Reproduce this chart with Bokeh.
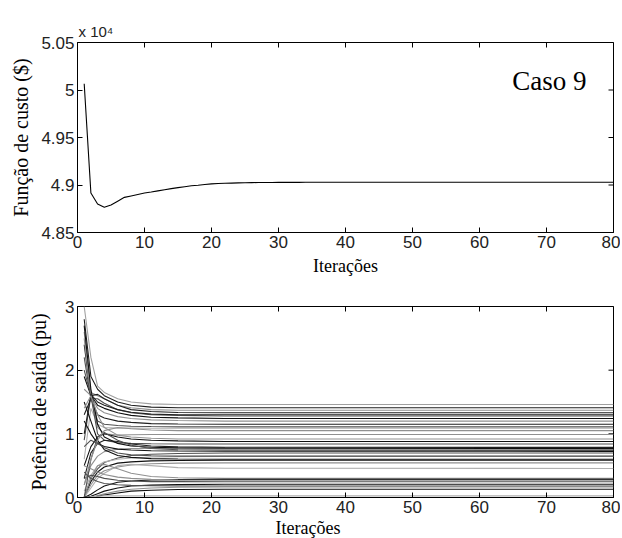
import math
from bokeh.plotting import figure
from bokeh.layouts import column
from bokeh.models import FixedTicker, CustomJSTickFormatter, Label, Range1d, Title
from bokeh.embed import file_html
from bokeh.resources import INLINE

# ---------------- data ----------------
iterations = list(range(1, 81))
cost_dollars = [
    50065, 48915, 48800, 48766, 48790, 48830, 48870, 48885, 48900, 48915,
    48926, 48938, 48950, 48962, 48972, 48982, 48992, 48998, 49006, 49012,
    49015, 49018, 49020, 49022, 49024, 49025, 49026, 49027, 49027, 49028,
    49028, 49028, 49028, 49029, 49029, 49029, 49029, 49029, 49029, 49029,
    49029, 49029, 49029, 49029, 49029, 49029, 49029, 49029, 49029, 49029,
    49029, 49029, 49029, 49029, 49029, 49029, 49029, 49029, 49029, 49029,
    49029, 49029, 49029, 49029, 49029, 49029, 49029, 49029, 49029, 49029,
    49029, 49029, 49029, 49029, 49029, 49029, 49029, 49029, 49029, 49029,
]

power_iters = [1, 2, 3, 4, 6, 8, 11, 15, 22, 80]
power_by_unit = [
    [3.00, 2.20, 1.75, 1.65, 1.55, 1.50, 1.47, 1.46, 1.46, 1.46],
    [2.80, 1.90, 1.70, 1.60, 1.50, 1.45, 1.42, 1.41, 1.41, 1.41],
    [2.60, 1.65, 1.60, 1.55, 1.45, 1.41, 1.38, 1.37, 1.37, 1.37],
    [2.40, 1.60, 1.62, 1.55, 1.45, 1.38, 1.35, 1.335, 1.33, 1.33],
    [2.20, 1.55, 1.55, 1.48, 1.38, 1.33, 1.30, 1.29, 1.28, 1.28],
    [1.90, 1.60, 1.45, 1.40, 1.33, 1.29, 1.26, 1.25, 1.24, 1.24],
    [1.70, 1.60, 1.40, 1.33, 1.27, 1.24, 1.22, 1.21, 1.20, 1.20],
    [1.30, 1.55, 1.30, 1.25, 1.20, 1.18, 1.16, 1.155, 1.15, 1.15],
    [0.90, 1.60, 1.20, 1.15, 1.13, 1.12, 1.115, 1.11, 1.11, 1.11],
    [0.60, 1.40, 1.15, 1.10, 1.09, 1.09, 1.088, 1.087, 1.087, 1.087],
    [2.50, 1.60, 1.10, 1.00, 0.98, 0.985, 0.99, 0.99, 0.99, 0.99],
    [0.50, 0.80, 0.95, 1.00, 0.95, 0.92, 0.90, 0.89, 0.88, 0.88],
    [2.00, 1.60, 1.00, 0.90, 0.86, 0.85, 0.845, 0.84, 0.84, 0.84],
    [0.30, 0.70, 0.85, 0.90, 0.88, 0.84, 0.81, 0.795, 0.79, 0.787],
    [0.20, 0.50, 0.65, 0.72, 0.76, 0.77, 0.77, 0.765, 0.76, 0.756],
    [1.20, 1.00, 0.85, 0.80, 0.76, 0.745, 0.735, 0.73, 0.727, 0.725],
    [0.00, 0.30, 0.45, 0.55, 0.62, 0.66, 0.68, 0.69, 0.70, 0.70],
    [0.10, 0.35, 0.50, 0.56, 0.60, 0.62, 0.635, 0.642, 0.646, 0.648],
    [0.00, 0.25, 0.40, 0.48, 0.54, 0.56, 0.575, 0.58, 0.585, 0.585],
    [0.00, 0.20, 0.35, 0.42, 0.48, 0.51, 0.53, 0.54, 0.544, 0.544],
    [0.00, 0.15, 0.30, 0.38, 0.50, 0.52, 0.50, 0.47, 0.46, 0.456],
    [0.00, 0.30, 0.50, 0.52, 0.45, 0.38, 0.33, 0.31, 0.30, 0.30],
    [0.00, 0.05, 0.12, 0.18, 0.24, 0.26, 0.275, 0.28, 0.285, 0.285],
    [0.30, 0.35, 0.33, 0.30, 0.27, 0.26, 0.25, 0.25, 0.248, 0.248],
    [0.00, 0.02, 0.06, 0.10, 0.15, 0.18, 0.195, 0.203, 0.207, 0.208],
    [0.00, 0.00, 0.03, 0.06, 0.10, 0.13, 0.15, 0.16, 0.165, 0.166],
    [0.00, 0.00, 0.02, 0.04, 0.07, 0.10, 0.115, 0.125, 0.13, 0.13],
    [0.00, 0.01, 0.02, 0.025, 0.026, 0.026, 0.026, 0.026, 0.026, 0.026],
    [2.70, 1.70, 1.15, 0.95, 0.85, 0.81, 0.79, 0.78, 0.775, 0.77],
    [0.00, 0.60, 0.95, 1.02, 0.90, 0.82, 0.77, 0.75, 0.742, 0.74],
    [0.50, 0.45, 0.40, 0.36, 0.32, 0.30, 0.285, 0.275, 0.27, 0.27],
    [1.50, 1.20, 0.90, 0.75, 0.66, 0.63, 0.61, 0.605, 0.60, 0.60],
    [1.00, 1.62, 1.50, 1.45, 1.38, 1.34, 1.31, 1.30, 1.30, 1.30],
    [0.20, 0.60, 0.90, 1.05, 1.10, 1.08, 1.06, 1.05, 1.05, 1.05],
    [0.80, 0.90, 0.85, 0.78, 0.70, 0.67, 0.655, 0.65, 0.65, 0.65],
    [0.40, 0.30, 0.25, 0.22, 0.20, 0.19, 0.185, 0.18, 0.18, 0.18],
    [1.40, 1.60, 1.30, 1.10, 0.98, 0.95, 0.93, 0.92, 0.92, 0.92],
]
unit_shades = [
    "#a0a0a0", "#202020", "#909090", "#202020", "#505050", "#101010", "#909090",
    "#202020", "#505050", "#b0b0b0", "#909090", "#101010", "#505050", "#202020",
    "#909090", "#101010", "#505050", "#b0b0b0", "#101010", "#909090", "#b0b0b0",
    "#909090", "#101010", "#505050", "#101010", "#909090", "#101010", "#b0b0b0",
    "#101010", "#505050", "#909090", "#101010", "#202020", "#909090", "#505050",
    "#505050", "#909090",
]

x_ticks = [0, 10, 20, 30, 40, 50, 60, 70, 80]
cost_ticks = [4.85, 4.9, 4.95, 5.0, 5.05]
power_ticks = [0, 1, 2, 3]

TICK_FONT = "'Liberation Sans Narrow', 'Arial Narrow', sans-serif"
LABEL_FONT = "'Liberation Serif', 'Times New Roman', serif"


def style(p, yticks):
    p.outline_line_color = "black"
    p.xgrid.visible = False
    p.ygrid.visible = False
    p.background_fill_color = "white"
    p.border_fill_color = "white"
    for ax in (p.xaxis[0], p.yaxis[0]):
        ax.major_tick_in = 5
        ax.major_tick_out = 0
        ax.minor_tick_line_color = None
        ax.axis_line_color = "black"
        ax.major_tick_line_color = "black"
        ax.major_label_text_font = TICK_FONT
        ax.major_label_text_font_size = "17px"
        ax.major_label_text_color = "#222222"
        ax.major_label_standoff = 3
        ax.axis_label_text_font = LABEL_FONT
        ax.axis_label_text_font_style = "normal"
        ax.axis_label_text_color = "black"
    p.xaxis[0].axis_label_text_font_size = "18px"
    p.yaxis[0].axis_label_text_font_size = "20px"
    p.xaxis[0].ticker = FixedTicker(ticks=x_ticks)
    p.yaxis[0].ticker = FixedTicker(ticks=yticks)
    # inward ticks on the top and right edges (half of each dash is clipped by the frame)
    p.scatter(x=x_ticks, y=[p.y_range.end] * len(x_ticks), marker="dash", size=10,
              angle=math.pi / 2, line_color="black", line_width=1)
    p.scatter(x=[p.x_range.end] * len(yticks), y=yticks, marker="dash", size=10,
              line_color="black", line_width=1)


# ---------------- top plot ----------------
p1 = figure(width=620, height=280, output_backend="svg", toolbar_location=None,
            x_range=Range1d(0, 80), y_range=Range1d(4.85, 5.05),
            min_border_left=77, min_border_right=7, min_border_top=42, min_border_bottom=48)
style(p1, cost_ticks)
p1.yaxis[0].formatter = CustomJSTickFormatter(code="return String(Math.round(tick*100)/100);")
p1.xaxis[0].axis_label = "Iterações"
p1.xaxis[0].axis_label_standoff = 5
p1.yaxis[0].axis_label = "Função de custo ($)"
p1.yaxis[0].axis_label_standoff = 6
p1.line(iterations, [c / 1e4 for c in cost_dollars], line_color="black", line_width=1.1)
p1.add_layout(Title(text="x 10⁴", align="left", offset=1, standoff=6, text_font=TICK_FONT,
                    text_font_size="15px", text_font_style="normal", text_color="#222222"), "above")
p1.add_layout(Label(x=64.9, y=5.009, text="Caso 9", text_font=LABEL_FONT, text_font_size="27px",
                    text_baseline="alphabetic", text_color="black"))

# ---------------- bottom plot ----------------
p2 = figure(width=620, height=258, output_backend="svg", toolbar_location=None,
            x_range=Range1d(0, 80), y_range=Range1d(0, 3),
            min_border_left=77, min_border_right=7, min_border_top=26, min_border_bottom=41)
style(p2, power_ticks)
p2.yaxis[0].axis_label = "Potência de saída (pu)"
p2.yaxis[0].axis_label_standoff = 12
for vals, shade in zip(power_by_unit, unit_shades):
    p2.line(power_iters, vals, line_color=shade, line_width=1.1)
p2.add_layout(Title(text="Iterações", align="left", offset=198, standoff=0, text_font=LABEL_FONT,
                    text_font_size="18px", text_font_style="normal", text_color="black"), "below")

layout = column(p1, p2, spacing=0)
open("out.html", "w").write(file_html(layout, INLINE))
